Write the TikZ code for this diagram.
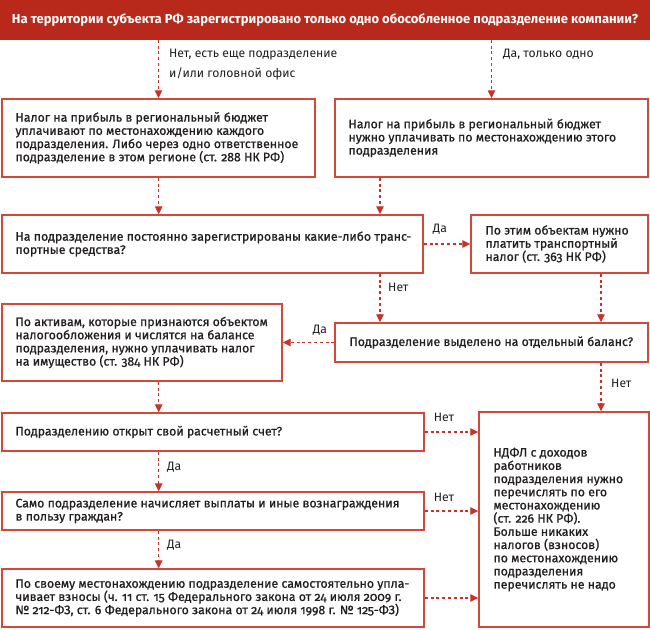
\documentclass[tikz,border=0pt]{standalone}
\usepackage{fontspec}
\setmainfont{Fira Sans}[Numbers=OldStyle]
\newfontfamily\boxfont{Fira Sans}[Numbers=OldStyle,FakeBold=0.9]
\usetikzlibrary{arrows.meta}
\definecolor{barred}{HTML}{B8291B}
\definecolor{boxred}{HTML}{D4483B}
\definecolor{arrred}{HTML}{C4342A}
\definecolor{txt}{HTML}{231F20}
\begin{document}
\begin{tikzpicture}[x=1pt,y=-1pt,
  bx/.style={draw=boxred,line width=1.4pt,fill=white,inner sep=0pt},
  tx/.style={anchor=west,align=left,inner sep=0pt,text=txt,font=\boxfont\fontsize{12.3}{13.2}\selectfont},
  ar/.style={draw=arrred,line width=1.2pt,dash pattern=on 3pt off 2.8pt,-{Triangle[length=8pt,width=7.5pt]}},
  lbl/.style={inner sep=0pt,text=txt,font=\fontsize{12.2}{13}\selectfont}]
\useasboundingbox (0,0) rectangle (650,629);
\fill[white] (0,0) rectangle (650,629);
% top bar
\node[fill=barred,minimum width=650pt,minimum height=39.5pt,inner sep=0pt,text=white,
  font=\bfseries\fontsize{13}{15}\selectfont] (bar) at (325,19.75)
  {На территории субъекта РФ зарегистрировано только одно обособленное подразделение компании?};
% helper coordinates
\coordinate (c158) at (158.7,0);
\coordinate (c380) at (380,0);
\coordinate (c601) at (601,0);
% boxes
\node[bx,minimum width=313pt,minimum height=78pt] (b1) at (158.5,138) {};
\node[tx] (t1) at ([xshift=14pt]b1.west) {Налог на прибыль в региональный бюджет\\уплачивают по местонахождению каждого\\подразделения. Либо через одно ответственное\\подразделение в этом регионе (ст. 288 НК РФ)};
\node[bx,minimum width=313pt,minimum height=78pt] (b2) at (491.5,138) {};
\node[tx] (t2) at ([xshift=14pt]b2.west) {Налог на прибыль в региональный бюджет\\нужно уплачивать по местонахождению этого\\подразделения};
\node[bx,minimum width=421pt,minimum height=58pt] (b3) at (212.5,244) {};
\node[tx] (t3) at ([xshift=14pt]b3.west) {На подразделение постоянно зарегистрированы какие-либо транс-\\портные средства?};
\node[bx,minimum width=177pt,minimum height=58pt] (b4) at (559.5,244) {};
\node[tx] (t4) at ([xshift=15pt]b4.west) {По этим объектам нужно\\платить транспортный\\налог (ст. 363 НК РФ)};
\node[bx,minimum width=313pt,minimum height=39pt] (b5) at (491.5,342.5) {};
\node[tx] (t5) at ([xshift=15pt]b5.west) {Подразделение выделено на отдельный баланс?};
\node[bx,minimum width=280pt,minimum height=77pt] (b6) at (142,342.5) {};
\node[tx] (t6) at ([xshift=14pt]b6.west) {По активам, которые признаются объектом\\налогообложения и числятся на балансе\\подразделения, нужно уплачивать налог\\на имущество (ст. 384 НК РФ)};
\node[bx,minimum width=422pt,minimum height=38pt] (b7) at (213,432) {};
\node[tx] (t7) at ([xshift=14pt]b7.west) {Подразделению открыт свой расчетный счет?};
\node[bx,minimum width=170pt,minimum height=215pt] (b8) at (564,519.5) {};
\node[tx] (t8) at ([xshift=15pt]b8.west) {НДФЛ с доходов\\работников\\подразделения нужно\\перечислять по его\\местонахождению\\(ст. 226 НК РФ).\\Больше никаких\\налогов (взносов)\\по местонахождению\\подразделения\\перечислять не надо};
\node[bx,minimum width=422pt,minimum height=38pt] (b9) at (213,511) {};
\node[tx] (t9) at ([xshift=14pt]b9.west) {Само подразделение начисляет выплаты и иные вознаграждения\\в пользу граждан?};
\node[bx,minimum width=422pt,minimum height=58pt] (b10) at (213,598) {};
\node[tx] (t10) at ([xshift=14pt]b10.west) {По своему местонахождению подразделение самостоятельно упла-\\чивает взносы (ч. 11 ст. 15 Федерального закона от 24 июля 2009 г.\\№ 212-ФЗ, ст. 6 Федерального закона от 24 июля 1998 г. № 125-ФЗ)};
% arrows
\draw[ar] (bar.south -| b1.north) -- (b1.north);
\draw[ar] (bar.south -| b2.north) -- (b2.north);
\draw[ar] (b1.south -| c158) -- (b3.north -| c158);
\draw[ar] (b2.south -| c380) -- (b3.north -| c380);
\draw[ar] (b3.east) -- (b4.west);
\draw[ar] (b3.south -| c380) -- (b5.north -| c380);
\draw[ar] (b4.south -| c601) -- (b5.north -| c601);
\draw[ar] (b5.west) -- (b6.east);
\draw[ar] (b5.south -| c601) -- (b8.north -| c601);
\draw[ar] (b6.south -| c158) -- (b7.north -| c158);
\draw[ar] (b7.east) -- (b7.east -| b8.west);
\draw[ar] (b7.south -| c158) -- (b9.north -| c158);
\draw[ar] (b9.east) -- (b9.east -| b8.west);
\draw[ar] (b9.south -| c158) -- (b10.north -| c158);
\draw[ar] (b10.east) -- (b10.east -| b8.west);
% labels
\node[lbl,anchor=west,align=left,font=\fontsize{12.2}{20}\selectfont] (l1) at (169,64.5) {Нет, есть еще подразделение\\и/или головной офис};
\node[lbl,anchor=west] (l2) at (503,54) {Да, только одно};
\node[lbl] (l3) at (440,229) {Да};
\node[lbl,anchor=west] (l4) at (388,287) {Нет};
\node[lbl] (l5) at (320,330) {Да};
\node[lbl,anchor=west] (l6) at (611,383) {Нет};
\node[lbl] (l7) at (444,417) {Нет};
\node[lbl,anchor=west] (l8) at (167,467) {Да};
\node[lbl] (l9) at (444,497) {Нет};
\node[lbl,anchor=west] (l10) at (167,545) {Да};
\end{tikzpicture}
\end{document}
